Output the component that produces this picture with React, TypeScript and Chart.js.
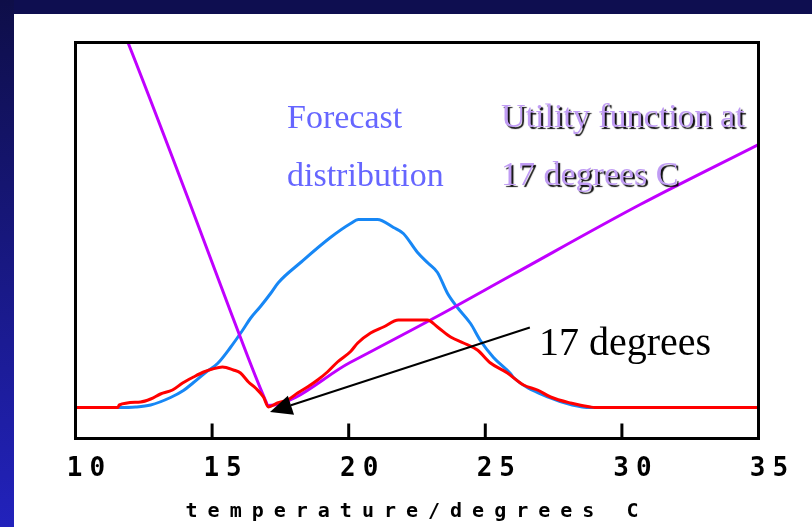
import { useEffect, useRef } from "react";
import { Chart, registerables } from "chart.js";

Chart.register(...registerables);

// Temperature axis (degrees C)
const temperatureTicks = [10, 15, 20, 25, 30, 35];

// Forecast probability distribution (arbitrary units)
const forecastTemps = [10, 11.57, 12.2, 12.75, 13.48, 13.95, 14.32, 14.76, 15.2, 15.67, 16.11, 16.4, 16.77, 17.14, 17.43, 18.24, 19.33, 20.07, 20.36, 21.05, 21.64, 22.0, 22.52, 22.92, 23.25, 23.62, 23.98, 24.46, 24.82, 25.3, 25.92, 26.03, 27.38, 28.18, 28.85, 35];
const forecastValues = [0, 0, 0.5, 2.5, 10, 17, 25, 35, 44, 60, 77, 89, 101, 114, 125, 145, 170, 184, 188, 188, 180, 174, 155, 144, 135, 114, 100, 84, 67, 50, 34, 30, 9.5, 2.5, 0, 0];

// Utility (loss) function for a 17 degree forecast
const utilityTemps = [11.8, 11.92, 14.12, 15.73, 16.94, 17.05, 20.05, 23.23, 26.01, 30.67, 35];
const utilityValues = [373, 365, 209, 92, 8, 2, 45, 91, 133, 203, 263];

// Utility weighted by the forecast distribution
const productTemps = [10, 11.55, 11.6, 12.38, 12.75, 13.11, 13.55, 13.92, 14.32, 14.69, 15.01, 15.38, 15.78, 16.04, 16.33, 16.59, 16.88, 17.06, 17.39, 17.76, 18.13, 18.49, 18.86, 19.22, 19.59, 20.07, 20.33, 20.8, 21.27, 21.82, 22.88, 23.25, 23.73, 24.2, 24.71, 25.19, 25.81, 26.4, 26.91, 27.39, 28.12, 28.85, 29.0, 35];
const productValues = [0, 0, 2.5, 5.5, 8.5, 13.5, 17.5, 24.5, 30.5, 35.5, 38.5, 40.5, 37.5, 34.5, 25.5, 19.5, 10.5, 0.5, 4.5, 7.5, 14.5, 20.5, 27.5, 35.5, 45.5, 56, 64.5, 74.5, 80.5, 87.5, 87.5, 80.5, 70.5, 64.5, 57.5, 44.5, 34.5, 22.5, 17.5, 10.5, 4.5, 0.5, 0, 0];

// Annotation arrow pointing at 17 degrees
const arrowTail = { x: 26.63, y: 80 };
const arrowTip = { x: 17.12, y: -4.5 };

const forecastLabel = ["Forecast", "distribution"];
const utilityLabel = ["Utility function at", "17 degrees C"];
const arrowLabel = "17 degrees";

const zip = (xs: number[], ys: number[]) => xs.map((x, i) => ({ x, y: ys[i] }));

// Wide-spaced axis text: the axis title is drawn before the datasets,
// the tick labels (z: 1) after them.
const decorations = {
  id: "decorations",
  beforeDraw(chart: any) {
    chart.ctx.letterSpacing = "10px";
  },
  beforeDatasetsDraw(chart: any) {
    chart.ctx.letterSpacing = "0px";
  },
  afterDatasetsDraw(chart: any) {
    const { ctx, chartArea } = chart;
    const xs = chart.scales.x;
    const ys = chart.scales.y;
    ctx.save();
    ctx.letterSpacing = "0px";

    // plot frame
    ctx.strokeStyle = "#000";
    ctx.lineWidth = 3;
    ctx.strokeRect(chartArea.left, chartArea.top, chartArea.right - chartArea.left, chartArea.bottom - chartArea.top);

    // inward tick marks
    temperatureTicks.slice(1, -1).forEach((t) => {
      const px = xs.getPixelForValue(t);
      ctx.beginPath();
      ctx.moveTo(px, chartArea.bottom);
      ctx.lineTo(px, chartArea.bottom - 15);
      ctx.stroke();
    });

    // arrow
    const x0 = xs.getPixelForValue(arrowTail.x);
    const y0 = ys.getPixelForValue(arrowTail.y);
    const x1 = xs.getPixelForValue(arrowTip.x);
    const y1 = ys.getPixelForValue(arrowTip.y);
    const ang = Math.atan2(y1 - y0, x1 - x0);
    const headLen = 22;
    const headHalf = 10;
    const bx = x1 - headLen * Math.cos(ang);
    const by = y1 - headLen * Math.sin(ang);
    ctx.lineWidth = 2;
    ctx.beginPath();
    ctx.moveTo(x0, y0);
    ctx.lineTo(bx, by);
    ctx.stroke();
    ctx.fillStyle = "#000";
    ctx.beginPath();
    ctx.moveTo(x1, y1);
    ctx.lineTo(bx + headHalf * Math.sin(ang), by - headHalf * Math.cos(ang));
    ctx.lineTo(bx - headHalf * Math.sin(ang), by + headHalf * Math.cos(ang));
    ctx.closePath();
    ctx.fill();

    // text labels
    ctx.textAlign = "left";
    ctx.textBaseline = "alphabetic";
    ctx.font = '34px "Liberation Serif"';
    ctx.fillStyle = "#6666ff";
    ctx.fillText(forecastLabel[0], 287, 128);
    ctx.fillText(forecastLabel[1], 287, 186);

    ctx.save();
    ctx.shadowColor = "rgba(0,0,0,0.95)";
    ctx.shadowOffsetX = 2;
    ctx.shadowOffsetY = 2;
    ctx.shadowBlur = 1;
    ctx.fillStyle = "#c09cf4";
    ctx.fillText(utilityLabel[0], 501, 127);
    ctx.fillText(utilityLabel[1], 501, 185);
    ctx.restore();

    ctx.font = '40px "Liberation Serif"';
    ctx.fillStyle = "#000";
    ctx.fillText(arrowLabel, 539, 355);
    ctx.restore();

    // spacing for the tick labels drawn next
    ctx.letterSpacing = "7px";
  },
  afterDraw(chart: any) {
    chart.ctx.letterSpacing = "0px";
  },
};

export default function App() {
  const canvasRef = useRef<HTMLCanvasElement>(null);

  useEffect(() => {
    if (!canvasRef.current) return;
    const chart = new Chart(canvasRef.current, {
      type: "line",
      data: {
        datasets: [
          {
            label: "weighted utility",
            data: zip(productTemps, productValues),
            borderColor: "#ff0000",
            borderWidth: 3,
            pointRadius: 0,
            cubicInterpolationMode: "monotone",
          },
          {
            label: "utility",
            data: zip(utilityTemps, utilityValues),
            borderColor: "#c000ff",
            borderWidth: 3,
            pointRadius: 0,
            cubicInterpolationMode: "monotone",
          },
          {
            label: "forecast",
            data: zip(forecastTemps, forecastValues),
            borderColor: "#1787f5",
            borderWidth: 3,
            pointRadius: 0,
            cubicInterpolationMode: "monotone",
          },
        ],
      },
      options: {
        animation: false,
        responsive: false,
        devicePixelRatio: 1,
        layout: { padding: { left: 75.5, top: 42.5, right: 53.5, bottom: 0 } },
        plugins: { legend: { display: false }, tooltip: { enabled: false } },
        scales: {
          x: {
            type: "linear",
            min: 10,
            max: 35,
            afterFit: (scale: any) => {
              scale.height = 88.5;
            },
            afterBuildTicks: (scale: any) => {
              scale.ticks = temperatureTicks.map((v) => ({ value: v }));
            },
            grid: { display: false, drawTicks: false },
            border: { display: false },
            ticks: {
              z: 1,
              autoSkip: false,
              maxRotation: 0,
              padding: 15,
              labelOffset: 14,
              color: "#000",
              font: { family: '"DejaVu Sans Mono"', size: 26, weight: "bold" },
              callback: (v: any) => String(v),
            },
            title: {
              display: true,
              text: "temperature/degrees C",
              color: "#000",
              font: { family: '"DejaVu Sans Mono"', size: 20, weight: "bold" },
              padding: { top: 0, bottom: 3 },
            },
          },
          y: {
            type: "linear",
            display: false,
            min: -31,
            max: 365,
          },
        },
      },
      plugins: [decorations],
    });
    return () => chart.destroy();
  }, []);

  return (
    <div style={{ position: "fixed", left: 0, top: 0, width: 812, height: 527, background: "#0e0e50", overflow: "hidden" }}>
      <div style={{ position: "absolute", left: 0, top: 0, width: 14, height: 527, background: "linear-gradient(#0e0e48, #2222bc)" }} />
      <div style={{ position: "absolute", left: 14, top: 14, right: 0, bottom: 0, background: "#fff" }} />
      <canvas ref={canvasRef} width={812} height={527} style={{ position: "absolute", left: 0, top: 0, width: 812, height: 527 }} />
    </div>
  );
}
